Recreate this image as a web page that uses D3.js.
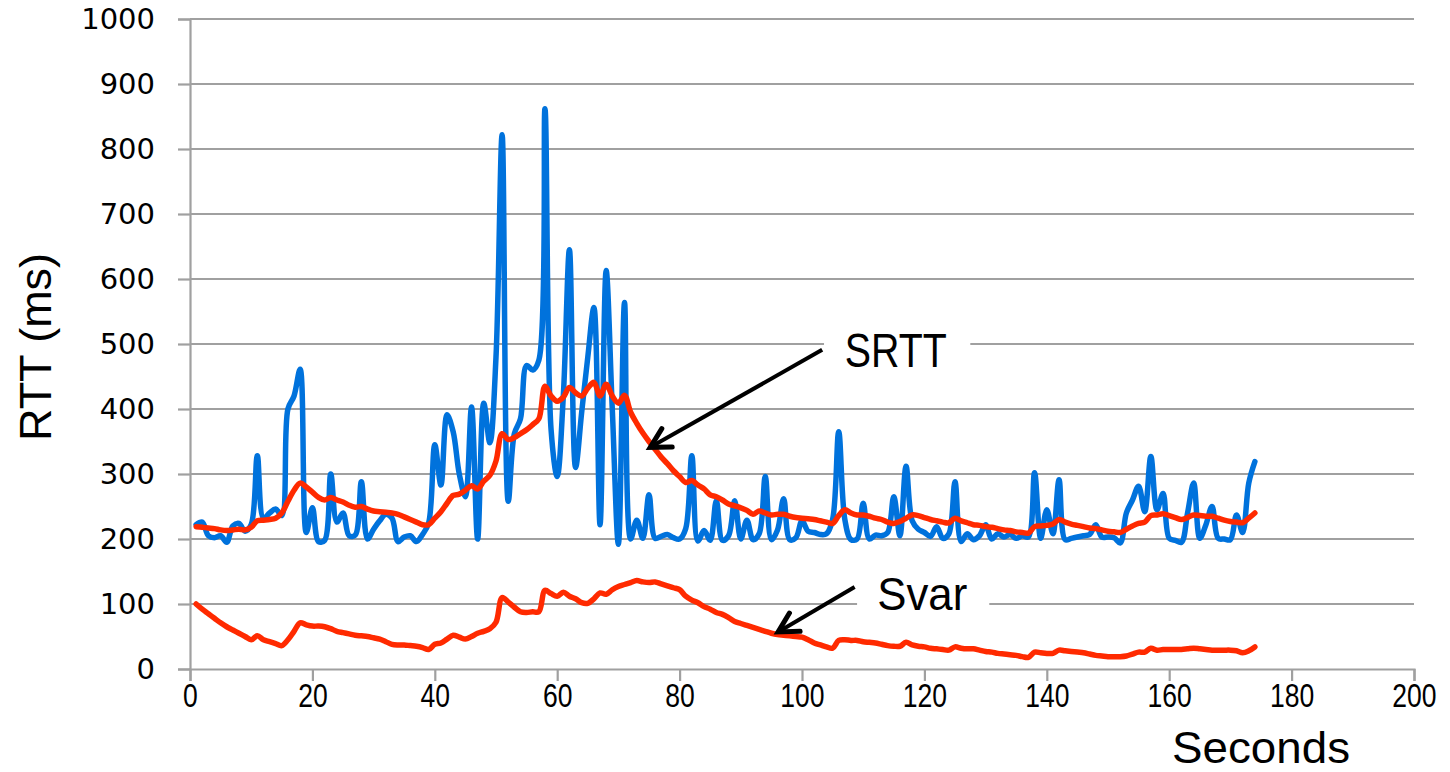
<!DOCTYPE html>
<html>
<head>
<meta charset="utf-8">
<script src="https://cdn.jsdelivr.net/npm/d3@7/dist/d3.min.js"></script>
<style>
  html, body { margin: 0; padding: 0; background: #fff; }
  svg { display: block; }
</style>
</head>
<body>
<svg id="chart" width="1450" height="772"></svg>
<script>
// Measured round-trip time, smoothed RTT and RTT variance, one sample per second
const seconds = d3.range(1, 175);

const rtt = [
  222, 226, 205, 202, 205, 195, 220, 224, 212, 222,
  328, 232, 240, 246, 236, 400, 420, 461, 210, 248,
  196, 198, 300, 226, 240, 205, 206, 288, 200, 215,
  228, 238, 232, 196, 203, 205, 196, 207, 225, 345,
  283, 391, 365, 300, 265, 403, 200, 409, 348, 480,
  822, 258, 362, 385, 467, 460, 475, 862, 368, 296,
  420, 645, 310, 395, 480, 556, 222, 613, 400, 192,
  564, 200, 229, 201, 268, 201, 204, 207, 202, 200,
  216, 328, 197, 213, 198, 259, 198, 205, 259, 200,
  229, 199, 208, 296, 199, 214, 262, 199, 202, 228,
  212, 210, 207, 208, 230, 365, 230, 199, 200, 255,
  200, 206, 205, 210, 265, 205, 312, 228, 215, 210,
  204, 219, 201, 208, 288, 196, 208, 199, 205, 222,
  200, 208, 203, 207, 201, 205, 203, 302, 201, 245,
  208, 291, 199, 201, 203, 205, 207, 222, 203, 203,
  202, 194, 240, 260, 281, 242, 327, 245, 270, 201,
  198, 195, 240, 286, 201, 222, 250, 201, 200, 199,
  237, 210, 286, 319
];

const srtt = [
  219, 218, 217, 216, 214, 213, 214, 215, 214, 218,
  228, 229, 230, 232, 240, 258, 275, 286, 280, 272,
  264, 260, 264, 260, 257, 252, 249, 250, 246, 243,
  242, 241, 240, 238, 234, 230, 226, 222, 222, 232,
  242, 255, 267, 269, 275, 282, 277, 289, 298, 320,
  362, 353, 356, 362, 368, 376, 385, 435, 420, 412,
  418, 433, 425, 420, 432, 441, 420, 438, 420, 409,
  421, 395, 378, 363, 350, 338, 326, 316, 305, 296,
  287, 290, 283, 277, 268, 265, 260, 254, 251, 248,
  244, 238, 243, 240, 237, 238, 238, 235, 233, 232,
  231, 230, 228, 226, 224, 236, 245, 240, 237, 237,
  235, 232, 230, 226, 224, 227, 232, 237, 236, 233,
  230, 228, 226, 225, 232, 228, 225, 222, 221, 219,
  218, 216, 214, 213, 211, 210, 209, 219, 220, 221,
  223, 230, 226, 223, 221, 219, 217, 216, 214, 212,
  211, 210, 215, 220, 224, 226, 236, 237, 239, 236,
  233, 230, 233, 237, 236, 235, 235, 232, 229, 227,
  226, 225, 232, 240
];

const svar = [
  100, 92, 85, 78, 71, 65, 60, 55, 50, 45,
  51, 45, 42, 39, 36, 45, 58, 71, 68, 66,
  66, 65, 62, 58, 56, 54, 52, 51, 50, 48,
  46, 42, 38, 37, 37, 36, 35, 33, 30, 38,
  40, 46, 52, 49, 46, 50, 55, 58, 62, 72,
  110, 103, 95, 88, 87, 88, 88, 121, 116, 112,
  118, 112, 108, 102, 101, 108, 117, 115, 122, 127,
  130, 133, 136, 134, 133, 134, 131, 128, 125, 122,
  112, 106, 102, 96, 92, 87, 84, 79, 73, 70,
  67, 64, 61, 58, 55, 53, 52, 51, 50, 49,
  45, 40, 37, 34, 32, 44, 45, 44, 44, 42,
  41, 40, 38, 36, 35, 35, 41, 37, 35, 34,
  32, 31, 30, 29, 34, 32, 31, 31, 29, 27,
  26, 24, 23, 22, 21, 19, 18, 26, 25, 24,
  24, 29, 28, 27, 26, 25, 23, 21, 20, 19,
  19, 19, 20, 23, 26, 26, 32, 29, 30, 30,
  30, 30, 31, 32, 31, 30, 29, 29, 29, 29,
  28, 25, 28, 34
];

const xTicks = [0, 20, 40, 60, 80, 100, 120, 140, 160, 180, 200];
const yTicks = [0, 100, 200, 300, 400, 500, 600, 700, 800, 900, 1000];

// Callout labels with their arrows (data coordinates)
const callouts = [
  { label: "SRTT", textX: 107.0, textY: 465, from: [103.3, 491], to: [75.2, 341], box: [103.6, 127.5] },
  { label: "Svar", textX: 112.3, textY: 91,  from: [108.6, 126], to: [96.1, 57],  box: [109.0, 130.6] }
];

const svg = d3.select("#chart");
const margin = { left: 190, right: 36, top: 19, bottom: 103 };
const W = 1450, H = 772;

const x = d3.scaleLinear().domain([0, 200]).range([margin.left, W - margin.right]);
const y = d3.scaleLinear().domain([0, 1000]).range([H - margin.bottom, margin.top]);

const gridColor = "#a0a0a0";

svg.append("rect").attr("width", W).attr("height", H).attr("fill", "#fff");

// horizontal gridlines
svg.append("g")
  .selectAll("line")
  .data(yTicks.filter(d => d > 0))
  .join("line")
  .attr("x1", x(0)).attr("x2", x(200))
  .attr("y1", d => y(d)).attr("y2", d => y(d))
  .attr("stroke", gridColor).attr("stroke-width", 2.2);

// y axis
const yAxis = svg.append("g")
  .attr("transform", `translate(${x(0)},0)`)
  .call(d3.axisLeft(y).tickValues(yTicks).tickSize(12).tickPadding(23).tickFormat(d3.format("d")));
yAxis.select(".domain").attr("stroke", gridColor).attr("stroke-width", 2.2);
yAxis.selectAll(".tick line").attr("stroke", gridColor).attr("stroke-width", 2.2);
yAxis.selectAll(".tick text")
  .attr("fill", "#000")
  .style("font-family", "'DejaVu Sans', Verdana, sans-serif")
  .style("font-size", "29px");

// x axis
const xAxis = svg.append("g")
  .attr("transform", `translate(0,${y(0)})`)
  .call(d3.axisBottom(x).tickValues(xTicks).tickSize(12).tickPadding(2).tickFormat(d3.format("d")));
xAxis.select(".domain").attr("stroke", gridColor).attr("stroke-width", 2.2);
xAxis.selectAll(".tick line").attr("stroke", gridColor).attr("stroke-width", 2.2);
xAxis.selectAll(".tick text")
  .attr("fill", "#000")
  .attr("transform", "scale(0.78,1)")
  .style("font-family", "'Liberation Sans', Arial, sans-serif")
  .style("font-size", "34px");

// axis titles
svg.append("text")
  .attr("transform", `translate(51,${(y(0) + y(1000)) / 2 + 3}) rotate(-90)`)
  .attr("text-anchor", "middle")
  .attr("textLength", 188)
  .attr("lengthAdjust", "spacingAndGlyphs")
  .style("font-family", "'Liberation Sans', Arial, sans-serif")
  .style("font-size", "45px")
  .attr("fill", "#000")
  .text("RTT (ms)");

svg.append("text")
  .attr("x", 1172).attr("y", 763)
  .attr("textLength", 178)
  .attr("lengthAdjust", "spacingAndGlyphs")
  .style("font-family", "'Liberation Sans', Arial, sans-serif")
  .style("font-size", "44px")
  .attr("fill", "#000")
  .text("Seconds");

// series
const line = d3.line()
  .x((d, i) => x(seconds[i]))
  .y(d => y(d))
  .curve(d3.curveCatmullRom.alpha(0.5));

svg.append("path").datum(rtt)
  .attr("d", line).attr("fill", "none")
  .attr("stroke", "#0072dc").attr("stroke-width", 5.5)
  .attr("stroke-linejoin", "round").attr("stroke-linecap", "round");

svg.append("path").datum(svar)
  .attr("d", line).attr("fill", "none")
  .attr("stroke", "#ff2a00").attr("stroke-width", 5.5)
  .attr("stroke-linejoin", "round").attr("stroke-linecap", "round");

svg.append("path").datum(srtt)
  .attr("d", line).attr("fill", "none")
  .attr("stroke", "#ff2a00").attr("stroke-width", 5.5)
  .attr("stroke-linejoin", "round").attr("stroke-linecap", "round");

// callouts: white label box over the gridline, arrow pointing at the curve
callouts.forEach(c => {
  const fontSize = c.label === "SRTT" ? 49 : 46;
  const tl = c.label === "SRTT" ? 102 : 90;
  svg.append("rect")
    .attr("x", x(c.box[0])).attr("width", x(c.box[1]) - x(c.box[0]))
    .attr("y", y(c.textY) - fontSize * 0.8).attr("height", fontSize * 0.95)
    .attr("fill", "#fff");
  svg.append("text")
    .attr("x", x(c.textX)).attr("y", y(c.textY))
    .attr("textLength", tl)
    .attr("lengthAdjust", "spacingAndGlyphs")
    .style("font-family", "'Liberation Sans', Arial, sans-serif")
    .style("font-size", fontSize + "px")
    .attr("fill", "#000")
    .text(c.label);

  const x1 = x(c.from[0]), y1 = y(c.from[1]);
  const x2 = x(c.to[0]), y2 = y(c.to[1]);
  svg.append("line")
    .attr("x1", x1).attr("y1", y1).attr("x2", x2).attr("y2", y2)
    .attr("stroke", "#000").attr("stroke-width", 4);
  const ang = Math.atan2(y1 - y2, x1 - x2);
  const len = 22, spread = 0.5;
  const p1 = [x2 + len * Math.cos(ang + spread), y2 + len * Math.sin(ang + spread)];
  const p2 = [x2 + len * Math.cos(ang - spread), y2 + len * Math.sin(ang - spread)];
  svg.append("path")
    .attr("d", `M${p1[0]},${p1[1]}L${x2},${y2}L${p2[0]},${p2[1]}`)
    .attr("fill", "none").attr("stroke", "#000").attr("stroke-width", 5)
    .attr("stroke-linecap", "round").attr("stroke-linejoin", "miter");
});
</script>
</body>
</html>
